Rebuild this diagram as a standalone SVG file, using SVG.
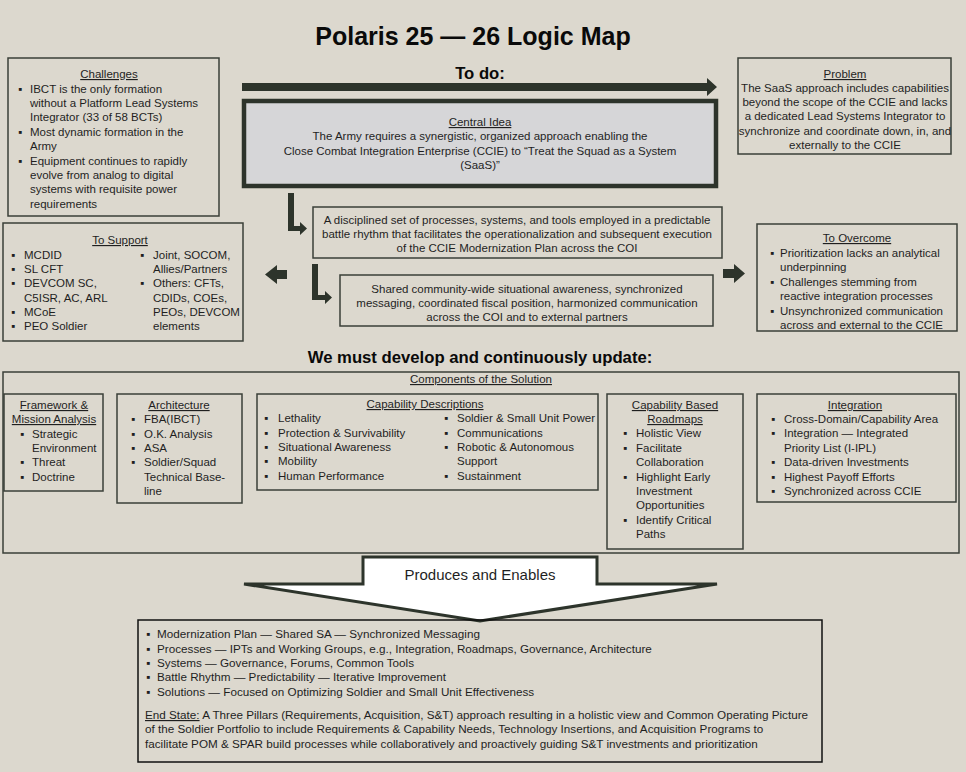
<svg xmlns="http://www.w3.org/2000/svg" width="966" height="772" viewBox="0 0 966 772">
<style>
  text { font-family: "Liberation Sans", Arial, sans-serif; font-size: 11.5px; fill: #1f1f1f; }
  .c { text-anchor: middle; }
  .u { text-decoration: underline; }
  .h1 { font-size: 25px; font-weight: bold; fill: #0a0a0a; }
  .h2 { font-size: 16.7px; font-weight: bold; fill: #0a0a0a; }
  .box { fill: none; stroke: #3a3f38; stroke-width: 1.5; }
  .dark { fill: #2d342b; stroke: none; }
  .sm { font-size: 11.7px; }
</style>
<rect x="0" y="0" width="966" height="772" fill="#dcd8ce"/>

<text class="h1 c" x="473" y="45">Polaris 25 — 26 Logic Map</text>

<g id="connectors">
  <polygon class="dark" points="242,83 707,83 707,78 717,87 707,96 707,91 242,91"/>
  <polygon class="dark" points="288,193 294,193 294,226 300,226 300,222 307,228.5 300,235 300,231 288,231"/>
  <polygon class="dark" points="312,264 318,264 318,295 325,295 325,291 332,297.5 325,304 325,300 312,300"/>
  <polygon class="dark" points="287,270 277,270 277,265 265,274.5 277,284 277,279 287,279"/>
  <polygon class="dark" points="723,269 734,269 734,264 745,273.5 734,283 734,278 723,278"/>
  <polygon points="363,557 597,557 597,584 717,584 480,621 244,584 363,584" fill="#ffffff" stroke="#2d342b" stroke-width="3" stroke-linejoin="miter"/>
</g>
<text class="c" x="480" y="580" style="font-size:15px">Produces and Enables</text>

<g id="challenges">
  <rect class="box" x="8" y="58" width="211" height="158"/>
  <text class="c u" x="109" y="78">Challenges</text>
  <text x="18" y="92.5">▪</text><text x="30" y="92.5">IBCT is the only formation</text>
  <text x="30" y="107">without a Platform Lead Systems</text>
  <text x="30" y="121">Integrator (33 of 58 BCTs)</text>
  <text x="18" y="136">▪</text><text x="30" y="136">Most dynamic formation in the</text>
  <text x="30" y="150">Army</text>
  <text x="18" y="165">▪</text><text x="30" y="165">Equipment continues to rapidly</text>
  <text x="30" y="179">evolve from analog to digital</text>
  <text x="30" y="193">systems with requisite power</text>
  <text x="30" y="207.5">requirements</text>
</g>

<text class="h2 c" x="480" y="79">To do:</text>

<g id="central">
  <rect x="244" y="101" width="472" height="85" fill="#d6d6d8" stroke="#2d342b" stroke-width="4.5"/>
  <text class="c u" x="480" y="126">Central Idea</text>
  <text class="c" x="480" y="140">The Army requires a synergistic, organized approach enabling the</text>
  <text class="c" x="480" y="155">Close Combat Integration Enterprise (CCIE) to “Treat the Squad as a System</text>
  <text class="c" x="480" y="169">(SaaS)”</text>
</g>

<g id="problem">
  <rect class="box" x="738" y="58" width="213" height="96"/>
  <text class="c u" x="845" y="78">Problem</text>
  <text class="c" x="845" y="92">The SaaS approach includes capabilities</text>
  <text class="c" x="845" y="106">beyond the scope of the CCIE and lacks</text>
  <text class="c" x="845" y="120">a dedicated Lead Systems Integrator to</text>
  <text class="c" x="845" y="135">synchronize and coordinate down, in, and</text>
  <text class="c" x="845" y="149">externally to the CCIE</text>
</g>

<g id="disciplined">
  <rect class="box" x="313" y="207" width="409" height="51"/>
  <text class="c" x="517" y="224">A disciplined set of processes, systems, and tools employed in a predictable</text>
  <text class="c" x="517" y="238">battle rhythm that facilitates the operationalization and subsequent execution</text>
  <text class="c" x="517" y="252">of the CCIE Modernization Plan across the COI</text>
</g>

<g id="shared">
  <rect class="box" x="340" y="275" width="373" height="51"/>
  <text class="c" x="527" y="293">Shared community-wide situational awareness, synchronized</text>
  <text class="c" x="527" y="307">messaging, coordinated fiscal position, harmonized communication</text>
  <text class="c" x="527" y="321">across the COI and to external partners</text>
</g>

<g id="to-support">
  <rect class="box" x="3" y="223" width="240" height="118"/>
  <text class="c u" x="120" y="244">To Support</text>
  <text x="11" y="259">▪</text><text x="24" y="259">MCDID</text>
  <text x="11" y="273">▪</text><text x="24" y="273">SL CFT</text>
  <text x="11" y="287">▪</text><text x="24" y="287">DEVCOM SC,</text>
  <text x="24" y="302">C5ISR, AC, ARL</text>
  <text x="11" y="316">▪</text><text x="24" y="316">MCoE</text>
  <text x="11" y="330">▪</text><text x="24" y="330">PEO Soldier</text>
  <text x="140" y="259">▪</text><text x="153" y="259">Joint, SOCOM,</text>
  <text x="153" y="273">Allies/Partners</text>
  <text x="140" y="287">▪</text><text x="153" y="287">Others: CFTs,</text>
  <text x="153" y="302">CDIDs, COEs,</text>
  <text x="153" y="316">PEOs, DEVCOM</text>
  <text x="153" y="330">elements</text>
</g>

<g id="to-overcome">
  <rect class="box" x="757" y="224" width="200" height="107"/>
  <text class="c u" x="857" y="242">To Overcome</text>
  <text x="770" y="257">▪</text><text x="780" y="257">Prioritization lacks an analytical</text>
  <text x="780" y="271">underpinning</text>
  <text x="770" y="286">▪</text><text x="780" y="286">Challenges stemming from</text>
  <text x="780" y="300">reactive integration processes</text>
  <text x="770" y="315">▪</text><text x="780" y="315">Unsynchronized communication</text>
  <text x="780" y="329">across and external to the CCIE</text>
</g>

<text class="h2 c" x="480" y="363">We must develop and continuously update:</text>

<g id="components">
  <rect class="box" x="3" y="372" width="956" height="181"/>
  <text class="c u" x="481" y="383">Components of the Solution</text>
</g>

<g id="framework">
  <rect class="box" x="4" y="394" width="99" height="97"/>
  <text class="c u" x="54" y="409">Framework &amp;</text>
  <text class="c u" x="54" y="423">Mission Analysis</text>
  <text x="20" y="438">▪</text><text x="32" y="438">Strategic</text>
  <text x="32" y="452">Environment</text>
  <text x="20" y="466">▪</text><text x="32" y="466">Threat</text>
  <text x="20" y="481">▪</text><text x="32" y="481">Doctrine</text>
</g>

<g id="architecture">
  <rect class="box" x="117" y="394" width="125" height="109"/>
  <text class="c u" x="179" y="409">Architecture</text>
  <text x="131" y="423">▪</text><text x="144" y="423">FBA(IBCT)</text>
  <text x="131" y="438">▪</text><text x="144" y="438">O.K. Analysis</text>
  <text x="131" y="452">▪</text><text x="144" y="452">ASA</text>
  <text x="131" y="466">▪</text><text x="144" y="466">Soldier/Squad</text>
  <text x="144" y="481">Technical Base-</text>
  <text x="144" y="495">line</text>
</g>

<g id="capability-descriptions">
  <rect class="box" x="257" y="394" width="341" height="96"/>
  <text class="c u" x="425" y="408">Capability Descriptions</text>
  <text x="264" y="422">▪</text><text x="278" y="422">Lethality</text>
  <text x="264" y="437">▪</text><text x="278" y="437">Protection &amp; Survivability</text>
  <text x="264" y="451">▪</text><text x="278" y="451">Situational Awareness</text>
  <text x="264" y="465">▪</text><text x="278" y="465">Mobility</text>
  <text x="264" y="480">▪</text><text x="278" y="480">Human Performance</text>
  <text x="444" y="422">▪</text><text x="457" y="422">Soldier &amp; Small Unit Power</text>
  <text x="444" y="437">▪</text><text x="457" y="437">Communications</text>
  <text x="444" y="451">▪</text><text x="457" y="451">Robotic &amp; Autonomous</text>
  <text x="457" y="465">Support</text>
  <text x="444" y="480">▪</text><text x="457" y="480">Sustainment</text>
</g>

<g id="roadmaps">
  <rect class="box" x="607" y="394" width="136" height="155"/>
  <text class="c u" x="675" y="409">Capability Based</text>
  <text class="c u" x="675" y="423">Roadmaps</text>
  <text x="623" y="437">▪</text><text x="636" y="437">Holistic View</text>
  <text x="623" y="452">▪</text><text x="636" y="452">Facilitate</text>
  <text x="636" y="466">Collaboration</text>
  <text x="623" y="481">▪</text><text x="636" y="481">Highlight Early</text>
  <text x="636" y="495">Investment</text>
  <text x="636" y="509">Opportunities</text>
  <text x="623" y="524">▪</text><text x="636" y="524">Identify Critical</text>
  <text x="636" y="538">Paths</text>
</g>

<g id="integration">
  <rect class="box" x="757" y="394" width="199" height="108"/>
  <text class="c u" x="855" y="409">Integration</text>
  <text x="771" y="423">▪</text><text x="784" y="423">Cross-Domain/Capability Area</text>
  <text x="771" y="437">▪</text><text x="784" y="437">Integration — Integrated</text>
  <text x="784" y="452">Priority List (I-IPL)</text>
  <text x="771" y="466">▪</text><text x="784" y="466">Data-driven Investments</text>
  <text x="771" y="481">▪</text><text x="784" y="481">Highest Payoff Efforts</text>
  <text x="771" y="495">▪</text><text x="784" y="495">Synchronized across CCIE</text>
</g>

<g id="end-state">
  <rect x="138" y="620" width="684" height="142" fill="none" stroke="#111111" stroke-width="1.5"/>
  <text class="sm" x="146" y="638">▪</text><text class="sm" x="157" y="638">Modernization Plan — Shared SA — Synchronized Messaging</text>
  <text class="sm" x="146" y="653">▪</text><text class="sm" x="157" y="653">Processes — IPTs and Working Groups, e.g., Integration, Roadmaps, Governance, Architecture</text>
  <text class="sm" x="146" y="667">▪</text><text class="sm" x="157" y="667">Systems — Governance, Forums, Common Tools</text>
  <text class="sm" x="146" y="681">▪</text><text class="sm" x="157" y="681">Battle Rhythm — Predictability — Iterative Improvement</text>
  <text class="sm" x="146" y="696">▪</text><text class="sm" x="157" y="696">Solutions — Focused on Optimizing Soldier and Small Unit Effectiveness</text>
  <text class="sm" x="145" y="719"><tspan class="u">End State:</tspan> A Three Pillars (Requirements, Acquisition, S&amp;T) approach resulting in a holistic view and Common Operating Picture</text>
  <text class="sm" x="145" y="733">of the Soldier Portfolio to include Requirements &amp; Capability Needs, Technology Insertions, and Acquisition Programs to</text>
  <text class="sm" x="145" y="748">facilitate POM &amp; SPAR build processes while collaboratively and proactively guiding S&amp;T investments and prioritization</text>
</g>
</svg>
